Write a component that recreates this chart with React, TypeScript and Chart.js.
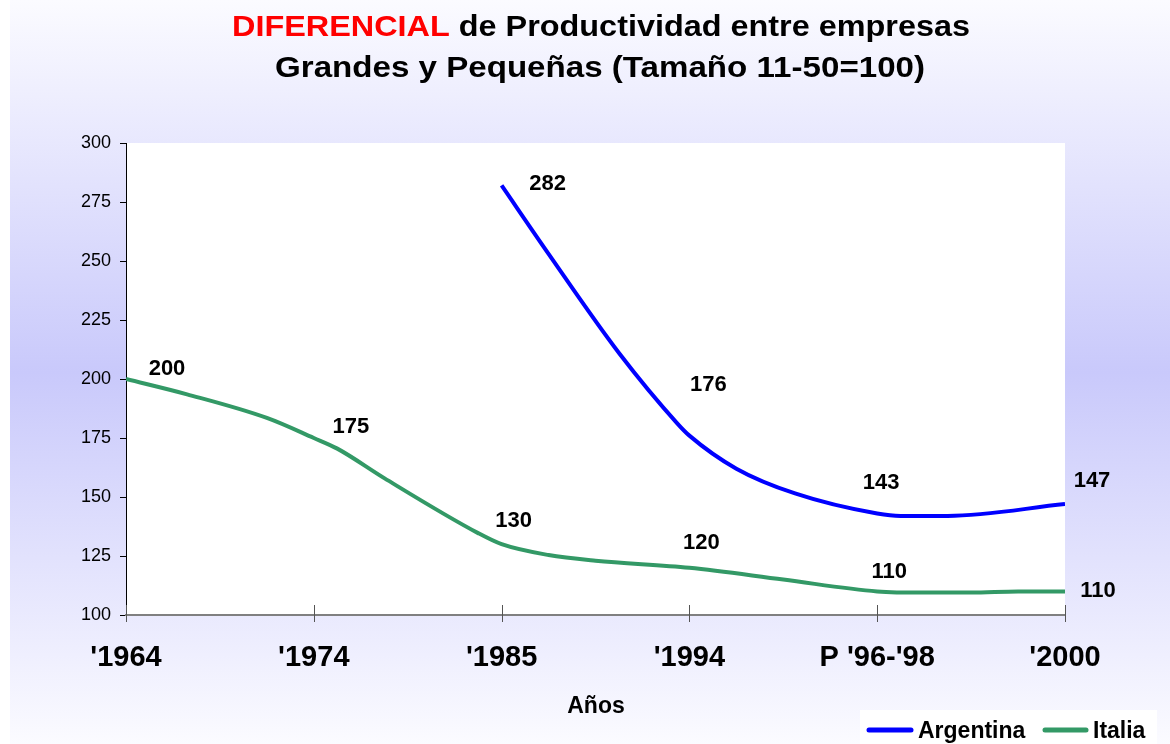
import React, { useEffect, useRef } from "react";
import { Chart, registerables } from "chart.js";

Chart.register(...registerables);

// ---- data ----
const categoryLabels = ["'1964", "'1974", "'1985", "'1994", "P '96-'98", "'2000"];
const categoryPositions = [0, 8, 16, 24, 32, 40];

const argentinaX = [16, 18, 21, 23.5, 24, 26, 28.5, 32, 33, 35, 40];
const argentinaY = [282, 253, 211, 181, 176, 162, 151.5, 143, 142, 142, 147];
const argentinaLabelIdx = [0, 4, 7, 10];

const italiaX = [0, 2.6, 6, 8, 9, 11, 15, 16, 18, 20, 24, 28, 32, 34, 36, 38, 40];
const italiaY = [200, 193.5, 183.5, 175, 170.5, 158, 134.7, 130, 125.4, 123, 120, 115, 110, 109.5, 109.5, 110, 110];
const italiaLabelIdx = [0, 3, 7, 10, 12, 16];

const yMin = 100;
const yMax = 300;
const yStep = 25;

const titleRed = "DIFERENCIAL";
const titleRest = " de Productividad entre empresas";
const titleLine2 = "Grandes y Pequeñas (Tamaño 11-50=100)";
const xAxisTitle = "Años";

// ---- style ----
const FONT = "'Liberation Sans', Arial, Helvetica, sans-serif";
const BLUE = "#0000ff";
const GREEN = "#339966";
const argentinaLabelOffsets = [[46, -3], [19, -52], [4, -32], [27, -24]];
const italiaLabelOffsets = [[41, -11], [37, -12], [12, -24], [12, -26], [12, -20], [33, -1]];

const decorPlugin = {
  id: "decor",
  beforeDraw(chart: any) {
    const { ctx, width, height, chartArea } = chart;
    ctx.save();
    ctx.fillStyle = "#ffffff";
    ctx.fillRect(0, 0, width, height);
    const g = ctx.createLinearGradient(0, 0, 0, height);
    g.addColorStop(0, "#fbfbff");
    g.addColorStop(0.5, "#c9c9fb");
    g.addColorStop(1, "#fbfbff");
    ctx.fillStyle = g;
    ctx.fillRect(10, 0, width - 10, height);
    ctx.fillStyle = "#ffffff";
    ctx.fillRect(chartArea.left, chartArea.top, chartArea.right - chartArea.left, chartArea.bottom - chartArea.top);
    ctx.restore();
  },
  afterDatasetsDraw(chart: any) {
    const { ctx, scales } = chart;
    const xs = scales.x;
    const ys = scales.y;
    ctx.save();
    ctx.font = `bold 22px ${FONT}`;
    ctx.fillStyle = "#000";
    ctx.textAlign = "center";
    ctx.textBaseline = "middle";
    const drawLabels = (xArr: number[], yArr: number[], idx: number[], offs: number[][]) => {
      idx.forEach((k, j) => {
        const px = xs.getPixelForValue(xArr[k]);
        const py = ys.getPixelForValue(yArr[k]);
        ctx.fillText(String(Math.round(yArr[k])), px + offs[j][0], py + offs[j][1] + 1);
      });
    };
    drawLabels(italiaX, italiaY, italiaLabelIdx, italiaLabelOffsets);
    drawLabels(argentinaX, argentinaY, argentinaLabelIdx, argentinaLabelOffsets);

    // cross tick marks on x axis
    ctx.strokeStyle = "#555555";
    ctx.lineWidth = 1;
    const base = chart.chartArea.bottom;
    categoryPositions.forEach((p) => {
      const px = Math.round(xs.getPixelForValue(p)) + 0.5;
      ctx.beginPath();
      ctx.moveTo(px, base - 10);
      ctx.lineTo(px, base + 7);
      ctx.stroke();
    });
    ctx.restore();
  },
  afterDraw(chart: any) {
    const { ctx } = chart;
    ctx.save();
    // title (slightly widened to match the original's proportions)
    ctx.font = `bold 30px ${FONT}`;
    ctx.textBaseline = "alphabetic";
    ctx.textAlign = "left";
    const w1 = ctx.measureText(titleRed).width;
    const w2 = ctx.measureText(titleRest).width;
    const sx1 = 738 / (w1 + w2);
    ctx.save();
    ctx.translate(232, 36);
    ctx.scale(sx1, 1);
    ctx.fillStyle = "#ff0000";
    ctx.fillText(titleRed, 0, 0);
    ctx.fillStyle = "#000000";
    ctx.fillText(titleRest, w1, 0);
    ctx.restore();
    const w3 = ctx.measureText(titleLine2).width;
    const sx2 = 650 / w3;
    ctx.save();
    ctx.translate(275, 77);
    ctx.scale(sx2, 1);
    ctx.fillStyle = "#000000";
    ctx.fillText(titleLine2, 0, 0);
    ctx.restore();

    // axis title
    ctx.fillStyle = "#000000";
    ctx.textAlign = "center";
    ctx.font = `bold 23px ${FONT}`;
    ctx.fillText(xAxisTitle, 596, 713);

    // legend
    ctx.fillStyle = "#ffffff";
    ctx.fillRect(860, 710, 297, 34);
    ctx.lineCap = "round";
    ctx.lineWidth = 5;
    ctx.strokeStyle = BLUE;
    ctx.beginPath();
    ctx.moveTo(869, 730);
    ctx.lineTo(911, 730);
    ctx.stroke();
    ctx.strokeStyle = GREEN;
    ctx.beginPath();
    ctx.moveTo(1045, 730);
    ctx.lineTo(1086, 730);
    ctx.stroke();
    ctx.font = `bold 23px ${FONT}`;
    ctx.fillStyle = "#000";
    ctx.textAlign = "left";
    ctx.fillText("Argentina", 918, 738);
    ctx.fillText("Italia", 1093, 738);
    ctx.restore();
  },
};

export default function App() {
  const ref = useRef<HTMLCanvasElement | null>(null);
  useEffect(() => {
    if (!ref.current) return;
    Chart.defaults.font.family = FONT;
    const chart = new Chart(ref.current, {
      type: "line",
      data: {
        datasets: [
          {
            label: "Argentina",
            data: argentinaX.map((x, i) => ({ x, y: argentinaY[i] })),
            borderColor: BLUE,
            borderWidth: 4,
            pointRadius: 0,
            fill: false,
            cubicInterpolationMode: "monotone",
          },
          {
            label: "Italia",
            data: italiaX.map((x, i) => ({ x, y: italiaY[i] })),
            borderColor: GREEN,
            borderWidth: 4,
            pointRadius: 0,
            fill: false,
            cubicInterpolationMode: "monotone",
          },
        ],
      },
      options: {
        animation: false,
        responsive: false,
        devicePixelRatio: 1,
        layout: { padding: { left: 10, right: 105, top: 143, bottom: 0 } },
        plugins: {
          legend: { display: false },
          title: { display: false },
          tooltip: { enabled: false },
        },
        scales: {
          x: {
            type: "linear",
            min: 0,
            max: 40,
            afterFit: (s: any) => { s.height = 129; },
            afterBuildTicks: (s: any) => { s.ticks = categoryPositions.map((v) => ({ value: v })); },
            ticks: {
              callback: (v: any) => {
                const i = categoryPositions.indexOf(Number(v));
                return i >= 0 ? categoryLabels[i] : "";
              },
              font: { size: 29, weight: "bold" },
              color: "#000",
              padding: 26,
              maxRotation: 0,
              autoSkip: false,
            },
            grid: { display: true, drawOnChartArea: false, drawTicks: false },
            border: { display: true, color: "#808080", width: 2 },
          },
          y: {
            min: yMin,
            max: yMax,
            afterFit: (s: any) => { s.width = 116; },
            ticks: {
              stepSize: yStep,
              font: { size: 18 },
              color: "#000",
              padding: 9,
            },
            grid: { drawOnChartArea: false, drawTicks: true, tickLength: 6, color: "#000" },
            border: { display: true, color: "#000", width: 1 },
          },
        },
      },
      plugins: [decorPlugin],
    });
    return () => chart.destroy();
  }, []);
  return (
    <div style={{ position: "absolute", left: 0, top: 0, width: 1170, height: 744 }}>
      <canvas ref={ref} width={1170} height={744} style={{ display: "block" }} />
    </div>
  );
}
